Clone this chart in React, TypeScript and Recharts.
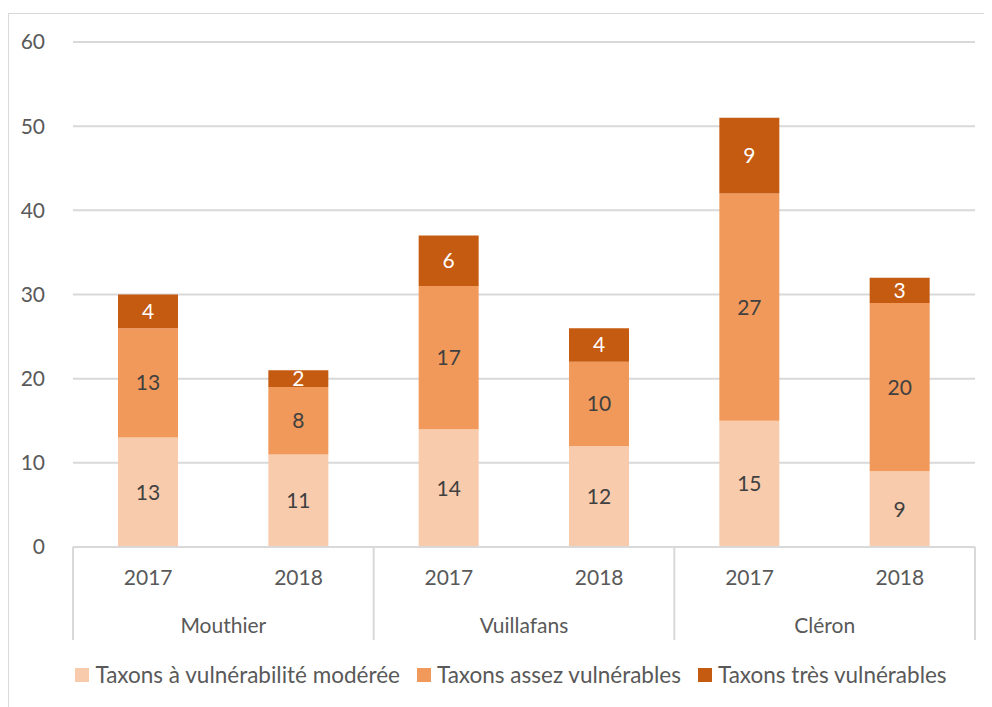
import React from 'react'
import { BarChart, Bar, XAxis, YAxis, CartesianGrid, Legend, LabelList } from 'recharts'

const sites = ['Mouthier', 'Mouthier', 'Vuillafans', 'Vuillafans', 'Cléron', 'Cléron']
const years = ['2017', '2018', '2017', '2018', '2017', '2018']
const moderee = [13, 11, 14, 12, 15, 9]
const assez = [13, 8, 17, 10, 27, 20]
const tres = [4, 2, 6, 4, 9, 3]
const yTicks = [0, 10, 20, 30, 40, 50, 60]

const seriesNames = ['Taxons à vulnérabilité modérée', 'Taxons assez vulnérables', 'Taxons très vulnérables']
const seriesColors = ['#F8CBAD', '#F1995B', '#C55A11']

const data = years.map((y, i) => ({
    key: i,
    year: y,
    site: sites[i],
    moderee: moderee[i],
    assez: assez[i],
    tres: tres[i],
}))

const font = 'Lato, "Open Sans", sans-serif'
const textColor = '#595959'
const lineColor = '#d9d9d9'
const W = 983
const H = 693
const margin = { top: 28, right: 17, bottom: 0, left: 0 }
const yAxisWidth = 64
const band = (W - margin.left - margin.right - yAxisWidth) / years.length

// two-level category axis: year on top, site below with separators
function CategoryTick(props: any) {
    const { x, y, payload } = props
    const i = payload.value
    const top = y - 8
    const isFirst = i === 0 || sites[i] !== sites[i - 1]
    const isLast = i === sites.length - 1
    return (
        <g>
            <text x={x} y={top + 38} textAnchor="middle" fill={textColor} fontSize={21} fontFamily={font}>
                {years[i]}
            </text>
            {isFirst && <line x1={x - band / 2} x2={x - band / 2} y1={top} y2={top + 93} stroke={lineColor} strokeWidth={2} />}
            {isLast && <line x1={x + band / 2} x2={x + band / 2} y1={top} y2={top + 93} stroke={lineColor} strokeWidth={2} />}
            {isFirst && (
                <text x={x + band / 2} y={top + 86} textAnchor="middle" fill={textColor} fontSize={21} fontFamily={font}>
                    {sites[i]}
                </text>
            )}
        </g>
    )
}

function LegendContent() {
    return (
        <div style={{ display: 'flex', justifyContent: 'center', alignItems: 'center', fontFamily: font, fontSize: 22.5, color: textColor, paddingLeft: 38 }}>
            {seriesNames.map((n, i) => (
                <div key={n} style={{ display: 'flex', alignItems: 'center', marginRight: i < seriesNames.length - 1 ? 17 : 0 }}>
                    <span style={{ width: 14, height: 14, background: seriesColors[i], marginRight: 6, display: 'inline-block' }} />
                    <span>{n}</span>
                </div>
            ))}
        </div>
    )
}

function App() {
    return (
        <div style={{ marginTop: 5, width: W, height: H, borderTop: `1px solid ${lineColor}`, borderLeft: `1px solid ${lineColor}`, background: '#fff' }}>
            <BarChart width={W} height={H} data={data} margin={margin}>
                <CartesianGrid vertical={false} stroke={lineColor} strokeWidth={2} />
                <XAxis dataKey="key" type="category" tick={<CategoryTick />} tickLine={false} axisLine={{ stroke: lineColor, strokeWidth: 2 }} height={100} interval={0} />
                <YAxis ticks={yTicks} domain={[0, 60]} width={yAxisWidth} axisLine={false} tickLine={false} tickMargin={22}
                    tick={{ fill: textColor, fontSize: 21, fontFamily: font }} />
                <Legend verticalAlign="bottom" height={60} content={<LegendContent />}
                    wrapperStyle={{ top: 647 }} />
                <Bar dataKey="moderee" name={seriesNames[0]} stackId="a" fill={seriesColors[0]} barSize={60} isAnimationActive={false}>
                    <LabelList dataKey="moderee" position="center" fill="#404040" fontSize={21} fontFamily={font} />
                </Bar>
                <Bar dataKey="assez" name={seriesNames[1]} stackId="a" fill={seriesColors[1]} barSize={60} isAnimationActive={false}>
                    <LabelList dataKey="assez" position="center" fill="#404040" fontSize={21} fontFamily={font} />
                </Bar>
                <Bar dataKey="tres" name={seriesNames[2]} stackId="a" fill={seriesColors[2]} barSize={60} isAnimationActive={false}>
                    <LabelList dataKey="tres" position="center" fill="#ffffff" fontSize={21} fontFamily={font} />
                </Bar>
            </BarChart>
        </div>
    )
}

export default App
